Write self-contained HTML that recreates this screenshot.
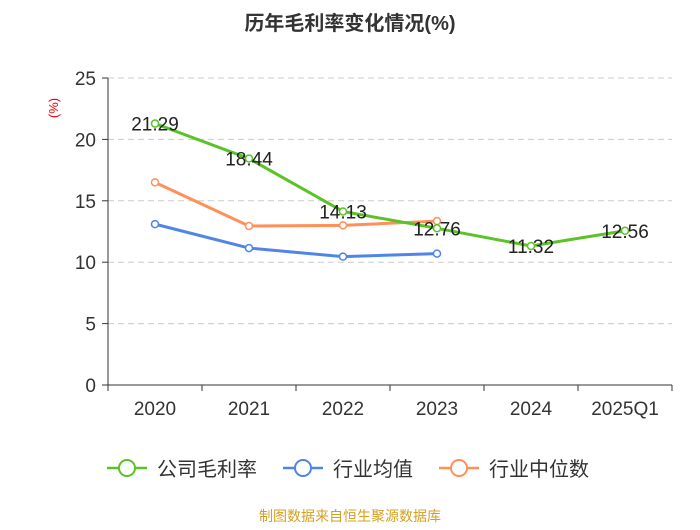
<!DOCTYPE html>
<html><head><meta charset="utf-8"><style>
body{margin:0;background:#fff;}
svg text{font-family:"Liberation Sans","Noto Sans CJK SC",sans-serif;}
</style></head><body>
<svg id="c" width="700" height="525">
<text x="350" y="30" text-anchor="middle" font-size="20" font-weight="bold" fill="#333">历年毛利率变化情况(%)</text>
<text x="58" y="108" text-anchor="middle" font-size="13" fill="#e00" transform="rotate(-90 58 108)">(%)</text>
<g id="grid"></g><g id="axes"></g><g id="series"></g>
<g>
<g><line x1="107" y1="468" x2="147" y2="468" stroke="#5ac328" stroke-width="2.5"/><circle cx="127" cy="468" r="8" fill="#fff" stroke="#5ac328" stroke-width="2"/><text x="157" y="476" font-size="20" fill="#333">公司毛利率</text></g>
<g><line x1="283" y1="468" x2="323" y2="468" stroke="#4f85e8" stroke-width="2.5"/><circle cx="303" cy="468" r="8" fill="#fff" stroke="#4f85e8" stroke-width="2"/><text x="333" y="476" font-size="20" fill="#333">行业均值</text></g>
<g><line x1="439" y1="468" x2="479" y2="468" stroke="#ff905a" stroke-width="2.5"/><circle cx="459" cy="468" r="8" fill="#fff" stroke="#ff905a" stroke-width="2"/><text x="489" y="476" font-size="20" fill="#333">行业中位数</text></g>
</g>
<text x="350" y="521" text-anchor="middle" font-size="14" fill="#d4a020">制图数据来自恒生聚源数据库</text>
</svg>
<script>
const categories=["2020","2021","2022","2023","2024","2025Q1"];
const company=[21.29,18.44,14.13,12.76,11.32,12.56];
const industryAvg=[13.1,11.15,10.45,10.7,null,null];
const industryMedian=[16.5,12.95,13.0,13.35,null,null];
const yTicks=[0,5,10,15,20,25];
const NS="http://www.w3.org/2000/svg";
const L=108,R=672,T=78,B=385,YMAX=25;
const bw=(R-L)/categories.length;
const xs=i=>L+bw*(i+0.5);
const ys=v=>B-(v/YMAX)*(B-T);
function mk(p,tag,a){const e=document.createElementNS(NS,tag);for(const k in a)e.setAttribute(k,a[k]);p.appendChild(e);return e;}
const grid=document.getElementById('grid'),axes=document.getElementById('axes'),ser=document.getElementById('series');
yTicks.forEach(t=>{
 if(t>0){const g=mk(grid,'line',{x1:L,x2:R,y1:ys(t),y2:ys(t),stroke:'#ccc','stroke-dasharray':'6,4'});
 
 }
 const tx=mk(axes,'text',{x:L-12,y:ys(t)+7,'text-anchor':'end','font-size':19,fill:'#333'});tx.textContent=t;
 
 
 mk(axes,'line',{x1:L-6,x2:L,y1:ys(t),y2:ys(t),stroke:'#333'});
});
const ya=mk(axes,'line',{x1:L,x2:L,y1:T,y2:B,stroke:'#333'});


const xa=mk(axes,'line',{x1:L,x2:R,y1:B,y2:B,stroke:'#333'});


categories.forEach((c,i)=>{
 mk(axes,'line',{x1:L+bw*i,x2:L+bw*i,y1:B,y2:B+6,stroke:'#333'});
 const tx=mk(axes,'text',{x:xs(i),y:B+30,'text-anchor':'middle','font-size':19,fill:'#333'});tx.textContent=c;
 
 
});
mk(axes,'line',{x1:R,x2:R,y1:B,y2:B+6,stroke:'#333'});
function draw(data,color,name,labels){
 const pts=data.map((v,i)=>v==null?null:[xs(i),ys(v)]).filter(p=>p);
 const pl=mk(ser,'polyline',{points:pts.map(p=>p.join(',')).join(' '),fill:'none',stroke:color,'stroke-width':3});
 
 
 data.forEach((v,i)=>{if(v==null)return;
  const c=mk(ser,'circle',{cx:xs(i),cy:ys(v),r:3.5,fill:'#fff',stroke:color,'stroke-width':1.5});
  
  
 });
 if(labels)data.forEach((v,i)=>{
  const t=mk(ser,'text',{x:xs(i),y:ys(v)+7,'text-anchor':'middle','font-size':19,fill:'#222'});t.textContent=v.toFixed(2);
  
  
 });
}
draw(industryAvg,'#4f85e8','industry-avg',false);
draw(industryMedian,'#ff905a','industry-median',false);
draw(company,'#5ac328','company',true);
</script>
</body></html>
